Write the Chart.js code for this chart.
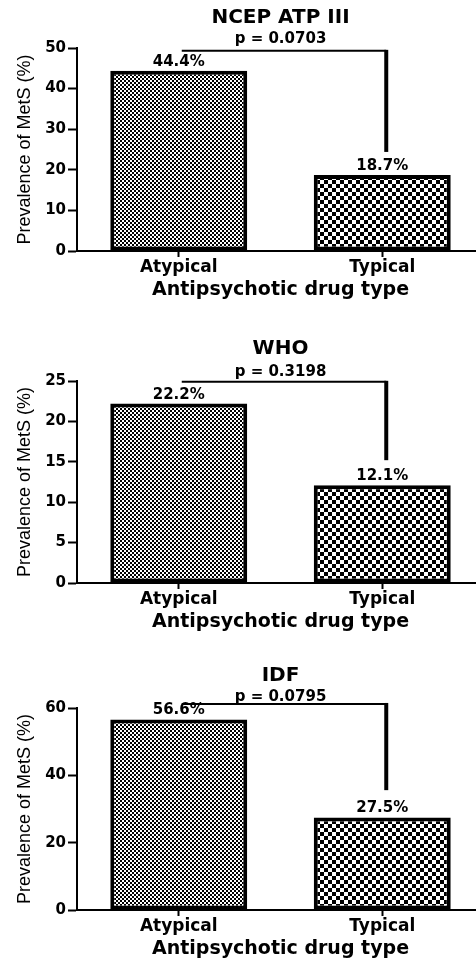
<!DOCTYPE html>
<html>
<head>
<meta charset="utf-8">
<script src="https://cdn.jsdelivr.net/npm/chart.js@4.4.0/dist/chart.umd.min.js"></script>
<style>
  html, body { margin: 0; padding: 0; background: #fff; overflow: hidden; }
  #wrap { position: relative; width: 476px; height: 963px; overflow: hidden; }
  .panel { position: absolute; left: 0; width: 484px; }
</style>
</head>
<body>
<div id="wrap">
  <div class="panel" style="top:0px"><canvas id="c0" width="484" height="320"></canvas></div>
  <div class="panel" style="top:320px"><canvas id="c1" width="484" height="320"></canvas></div>
  <div class="panel" style="top:640px"><canvas id="c2" width="484" height="323"></canvas></div>
</div>
<script>
// data
var categories = ['Atypical', 'Typical'];
var panelTitles = ['NCEP ATP III', 'WHO', 'IDF'];
var pValues = ['p = 0.0703', 'p = 0.3198', 'p = 0.0795'];
var ncepValues = [44.4, 18.7];
var whoValues = [22.2, 12.1];
var idfValues = [56.6, 27.5];
var yMax = [50, 25, 60];
var yStep = [10, 5, 20];
// bracket: horizontal level and where the drop ends (in axis units)
var bracketTop = [49.3, 24.9, 61.2];
var bracketEnd = [24.4, 15.2, 35.6];

var allValues = [ncepValues, whoValues, idfValues];

// layout bits per panel
var titlePad = [{top: 6, bottom: 0}, {top: 17, bottom: 2}, {top: 24, bottom: 0}];
var subPad = [{top: 0, bottom: 0}, {top: 0, bottom: 0}, {top: 0, bottom: 2}];
var bottomPad = [19, 7, 3];

Chart.defaults.color = '#000';
Chart.defaults.font.family = '"DejaVu Sans", sans-serif';

function checker(cell) {
  var c = document.createElement('canvas');
  c.width = cell * 2;
  c.height = cell * 2;
  var g = c.getContext('2d');
  g.fillStyle = '#fff';
  g.fillRect(0, 0, cell * 2, cell * 2);
  g.fillStyle = '#000';
  g.fillRect(0, 0, cell, cell);
  g.fillRect(cell, cell, cell, cell);
  return g.createPattern(c, 'repeat');
}
var fineFill = checker(2);
var coarseFill = checker(4);

// value labels over bars + the p bracket
var extras = {
  id: 'extras',
  afterDatasetsDraw: function(chart) {
    var ctx = chart.ctx;
    var idx = chart.options.panelIndex;
    var meta = chart.getDatasetMeta(0);
    var y = chart.scales.y;
    ctx.save();
    ctx.fillStyle = '#000';
    ctx.font = 'bold 15px "DejaVu Sans", sans-serif';
    ctx.textAlign = 'center';
    ctx.textBaseline = 'middle';
    meta.data.forEach(function(bar, i) {
      var v = chart.data.datasets[0].data[i];
      ctx.fillText(v.toFixed(1) + '%', bar.x, bar.y - 9);
    });

    var x0 = meta.data[0].x + 3;
    var x1 = meta.data[1].x + 4;
    var yt = y.getPixelForValue(bracketTop[idx]);
    var ye = y.getPixelForValue(bracketEnd[idx]);
    ctx.strokeStyle = '#000';
    ctx.lineWidth = 2;
    ctx.beginPath();
    ctx.moveTo(x0, yt);
    ctx.lineTo(x1, yt);
    ctx.stroke();
    ctx.lineWidth = 4;
    ctx.beginPath();
    ctx.moveTo(x1, yt - 1);
    ctx.lineTo(x1, ye);
    ctx.stroke();
    ctx.restore();
  }
};

function makeChart(i) {
  var ctx = document.getElementById('c' + i).getContext('2d');
  return new Chart(ctx, {
    type: 'bar',
    data: {
      labels: categories,
      datasets: [{
        data: allValues[i],
        backgroundColor: [fineFill, coarseFill],
        borderColor: '#000',
        borderWidth: 4,
        borderSkipped: false,
        barPercentage: 0.673,
        categoryPercentage: 1
      }]
    },
    options: {
      panelIndex: i,
      responsive: false,
      animation: false,
      devicePixelRatio: 1,
      layout: { padding: { left: 0, right: 0, top: 0, bottom: bottomPad[i] } },
      plugins: {
        legend: { display: false },
        tooltip: { enabled: false },
        title: {
          display: true,
          text: panelTitles[i],
          fullSize: false,
          color: '#000',
          font: { size: 20, weight: 'bold' },
          padding: titlePad[i]
        },
        subtitle: {
          display: true,
          text: pValues[i],
          fullSize: false,
          color: '#000',
          font: { size: 15, weight: 'bold' },
          padding: subPad[i]
        }
      },
      scales: {
        x: {
          offset: true,
          grid: { display: true, offset: false, drawOnChartArea: false, drawTicks: true,
                  tickLength: 6, tickColor: '#000', tickWidth: 2 },
          border: { display: true, color: '#000', width: 2 },
          ticks: { color: '#000', padding: 0, font: { size: 17, weight: 'bold' } },
          title: {
            display: true,
            text: 'Antipsychotic drug type',
            color: '#000',
            font: { size: 19, weight: 'bold' },
            padding: { top: 0, bottom: 0 }
          },
          afterFit: function(scale) { scale.height = 50; }
        },
        y: {
          min: 0,
          max: yMax[i],
          grid: { display: true, drawOnChartArea: false, drawTicks: true,
                  tickLength: 9, tickColor: '#000', tickWidth: 2 },
          border: { display: true, color: '#000', width: 2 },
          ticks: { stepSize: yStep[i], color: '#000', padding: 2,
                   font: { size: 15, weight: 'bold' } },
          title: {
            display: true,
            text: 'Prevalence of MetS (%)',
            color: '#000',
            font: { family: '"Liberation Sans", Arial, sans-serif', size: 18, weight: 'normal' },
            padding: { top: 14, bottom: 0 }
          },
          afterFit: function(scale) { scale.width = 77; }
        }
      }
    },
    plugins: [extras]
  });
}

for (var k = 0; k < 3; k++) {
  makeChart(k);
}
</script>
</body>
</html>
